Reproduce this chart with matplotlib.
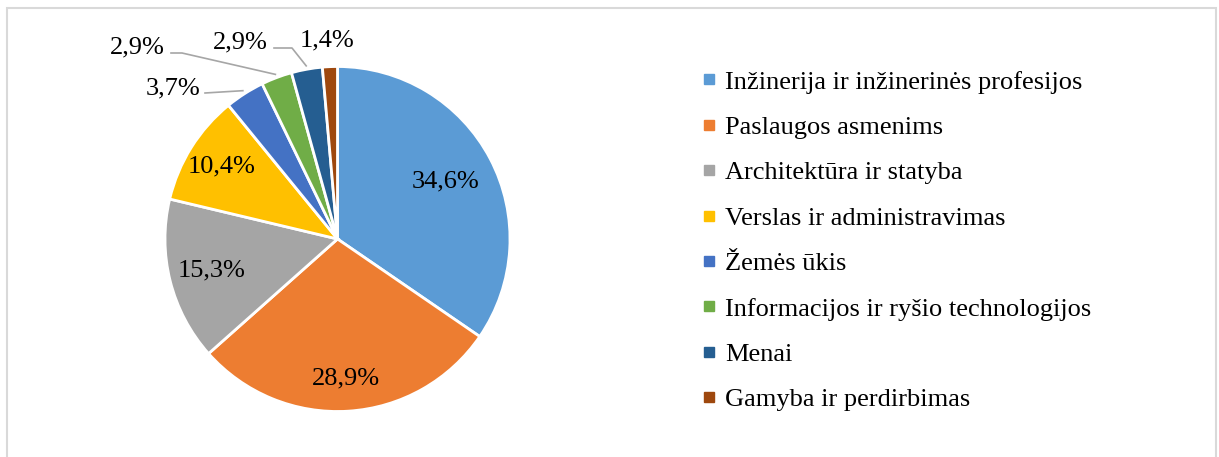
import numpy as np
import matplotlib
matplotlib.use('Agg')
import matplotlib.pyplot as plt
from matplotlib.lines import Line2D
from matplotlib.patches import Rectangle

plt.rcParams['font.family'] = ['Liberation Serif', 'DejaVu Serif']

# Datos
categories = ['Inžinerija ir inžinerinės profesijos', 'Paslaugos asmenims',
              'Architektūra ir statyba', 'Verslas ir administravimas',
              'Žemės ūkis', 'Informacijos ir ryšio technologijos',
              'Menai', 'Gamyba ir perdirbimas']
values = [34.6, 28.9, 15.3, 10.4, 3.7, 2.9, 2.9, 1.4]
labels = ['34,6%', '28,9%', '15,3%', '10,4%', '3,7%', '2,9%', '2,9%', '1,4%']
colors = ['#5B9BD5', '#ED7D31', '#A5A5A5', '#FFC000',
          '#4472C4', '#70AD47', '#255E91', '#9E480E']

W, H = 1219, 457
fig = plt.figure(figsize=(W / 100, H / 100), dpi=100)
ax = fig.add_axes([0, 0, 1, 1])

# marco
ax.add_patch(Rectangle((7, -5), 1209, H - 8 + 5, fill=False, ec='#D9D9D9', lw=1.5))

cx, cy, R = 337.5, H - 239, 172.5
wedges, _ = ax.pie(values, colors=colors, startangle=90, counterclock=False,
                   center=(cx, cy), radius=R, frame=True,
                   wedgeprops=dict(edgecolor='white', linewidth=2))
ax.set_xlim(0, W)
ax.set_ylim(0, H)
ax.set_aspect('equal')
ax.axis('off')

fs = 19
# etiquetas interiores
inner_r = [0.71, 0.81, 0.75, 0.79]
for i in range(4):
    w = wedges[i]
    ang = np.deg2rad((w.theta1 + w.theta2) / 2)
    ax.text(cx + inner_r[i] * R * np.cos(ang), cy + inner_r[i] * R * np.sin(ang),
            labels[i], ha='center', va='center', fontsize=fs)

# etiquetas exteriores con líneas guía
outer_pos = [(173, H - 88), (137, H - 47), (240, H - 42), (327, H - 40)]
elbow = [None, (182, H - 53), (292, H - 48), None]
for k, i in enumerate(range(4, 8)):
    w = wedges[i]
    ang = np.deg2rad((w.theta1 + w.theta2) / 2)
    tx, ty = outer_pos[k]
    ax.text(tx, ty, labels[i], ha='center', va='center', fontsize=fs)
    ex, ey = cx + 1.02 * R * np.cos(ang), cy + 1.02 * R * np.sin(ang)
    if k == 0:
        ax.plot([205, ex], [H - 93, ey], color='#A6A6A6', lw=1.2)
    elif elbow[k] is not None:
        sx = tx + 34
        ax.plot([sx, elbow[k][0], ex], [elbow[k][1], elbow[k][1], ey],
                color='#A6A6A6', lw=1.2)

handles = [Line2D([], [], marker='s', color=c, ls='none', markersize=6.5)
           for c in colors]
fig.legend(handles, categories, loc='upper left', bbox_to_anchor=(688 / W, 1 - 57 / H),
           frameon=False, fontsize=fs, labelspacing=0.83, handlelength=0.6,
           handletextpad=0.3, borderpad=0)

fig.savefig('out.png', dpi=100)
